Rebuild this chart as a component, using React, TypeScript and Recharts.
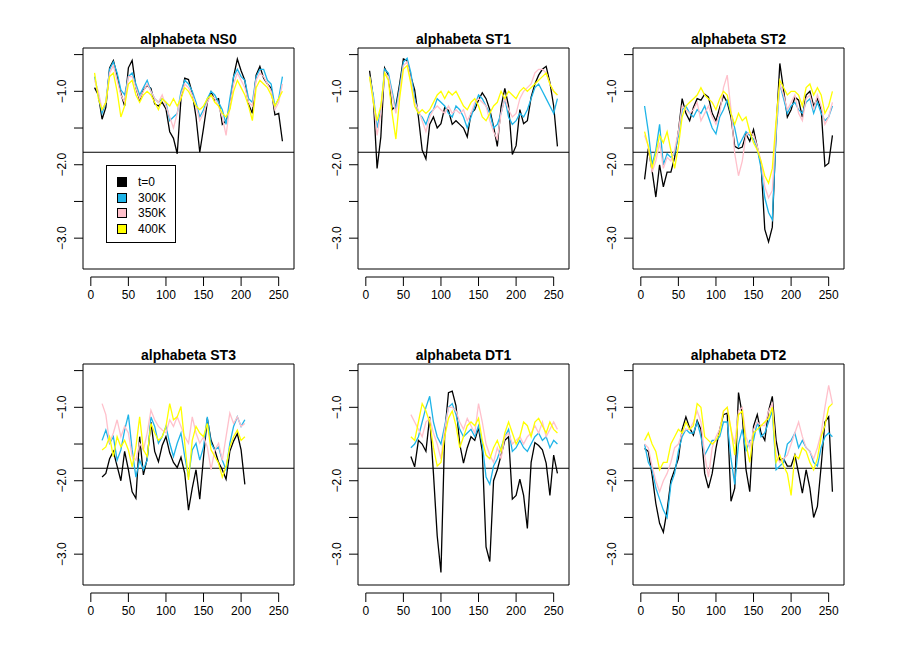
import React from "react";
import {
  LineChart,
  Line,
  XAxis,
  YAxis,
  ReferenceLine,
  ReferenceArea,
  Legend,
} from "recharts";

// residue positions (sampled every 5)
const X_FULL = [
  5, 10, 15, 20, 25, 30, 35, 40, 45, 50,
  55, 60, 65, 70, 75, 80, 85, 90, 95, 100,
  105, 110, 115, 120, 125, 130, 135, 140, 145, 150,
  155, 160, 165, 170, 175, 180, 185, 190, 195, 200,
  205, 210, 215, 220, 225, 230, 235, 240, 245, 250,
  255,
];
const X_ST3 = [
  15, 20, 25, 30, 35, 40, 45, 50, 55, 60,
  65, 70, 75, 80, 85, 90, 95, 100, 105, 110,
  115, 120, 125, 130, 135, 140, 145, 150, 155, 160,
  165, 170, 175, 180, 185, 190, 195, 200, 205,
];
const X_DT1 = [
  60, 65, 70, 75, 80, 85, 90, 95, 100, 105,
  110, 115, 120, 125, 130, 135, 140, 145, 150, 155,
  160, 165, 170, 175, 180, 185, 190, 195, 200, 205,
  210, 215, 220, 225, 230, 235, 240, 245, 250, 255,
];

const X_TICKS = [0, 50, 100, 150, 200, 250];
const Y_TICKS = [-3, -2.5, -2, -1.5, -1, -0.5];
const CUTOFF = -1.83;

// NS0
const NS0_T0 = [
  -0.95, -1.05, -1.38, -1.22, -0.68, -0.58, -0.78, -1.03, -1.2, -0.68,
  -0.58, -0.95, -1.12, -0.98, -0.92, -0.96, -1.17, -1.2, -1.15, -1.24,
  -1.55, -1.64, -1.85, -1.1, -0.82, -0.84, -1.02, -1.35, -1.83, -1.5,
  -1.15, -1.01, -1.12, -1.1, -1.45, -1.4, -1.22, -0.8, -0.56, -0.72,
  -0.85, -1.18, -1.3, -0.78, -0.66, -0.82, -0.9, -0.96, -1.32, -1.3,
  -1.68,
];
const NS0_300 = [
  -0.8, -1.05, -1.3, -1.15, -0.7, -0.6, -0.75, -0.98, -1.05, -0.8,
  -0.75, -0.9, -1.05, -0.95, -0.85, -1.0, -1.1, -1.15, -1.1, -1.15,
  -1.4, -1.35, -1.3, -1.0, -0.85, -0.9, -1.0, -1.15, -1.35, -1.25,
  -1.1, -1.0, -1.05, -1.15, -1.25, -1.45, -1.1, -0.8, -0.7, -0.8,
  -0.85, -1.1, -1.15, -0.8, -0.7, -0.7, -0.85, -0.9, -1.2, -1.1,
  -0.8,
];
const NS0_350 = [
  -0.85, -1.0, -1.25, -1.15, -0.75, -0.65, -0.85, -1.05, -1.15, -0.8,
  -0.8, -0.95, -1.1, -1.0, -0.9, -1.0, -1.1, -1.15, -1.05, -1.2,
  -1.35, -1.5, -1.3, -1.05, -0.9, -0.95, -1.05, -1.2, -1.4, -1.3,
  -1.15, -1.05, -1.1, -1.2, -1.35, -1.6, -1.2, -0.9, -0.75, -0.85,
  -0.95, -1.15, -1.2, -0.85, -0.75, -0.8, -0.9, -1.0, -1.25, -1.15,
  -0.9,
];
const NS0_400 = [
  -0.75, -1.1, -1.25, -1.15, -0.8, -0.75, -1.0, -1.35, -1.2, -0.9,
  -0.85, -1.05, -1.15, -1.05, -1.0, -1.05, -1.15, -1.25, -1.1, -1.15,
  -1.2, -1.1, -1.2, -1.1, -0.95, -1.0, -1.1, -1.2, -1.25, -1.2,
  -1.1, -1.05, -1.15, -1.2, -1.3, -1.35, -1.25, -1.0, -0.85, -0.95,
  -1.05, -1.2, -1.4, -0.95, -0.85, -0.9, -0.95, -1.05, -1.2, -1.1,
  -1.0,
];

// ST1
const ST1_T0 = [
  -0.72, -1.1, -2.05, -1.62, -0.68, -0.78, -1.25, -1.2, -0.9, -0.56,
  -0.58, -0.8, -0.98, -1.35, -1.8, -1.92, -1.45, -1.35, -1.5, -1.44,
  -1.22, -1.26, -1.45, -1.4, -1.45, -1.5, -1.62, -1.3, -1.25, -1.12,
  -1.02, -1.1, -1.25, -1.48, -1.75, -1.21, -0.96, -1.2, -1.86, -1.74,
  -1.25, -1.44, -1.4, -1.08, -0.9, -0.78, -0.7, -0.66, -0.88, -1.2,
  -1.75,
];
const ST1_300 = [
  -0.8, -1.05, -1.5, -1.25, -0.7, -0.75, -1.0, -1.25, -0.95, -0.6,
  -0.55, -0.75, -1.1, -1.3, -1.35, -1.45, -1.3, -1.25, -1.1, -1.15,
  -1.2, -1.3, -1.35, -1.2, -1.25, -1.35, -1.5, -1.35, -1.2, -1.05,
  -1.1, -1.2, -1.3, -1.5, -1.45, -1.3, -1.1, -1.35, -1.45, -1.4,
  -1.3, -1.35, -1.25, -1.1, -0.95, -0.9, -1.0, -1.1, -1.2, -1.3,
  -1.1,
];
const ST1_350 = [
  -0.8, -1.1, -1.6, -1.3, -0.75, -0.8, -1.05, -1.3, -1.0, -0.65,
  -0.6, -0.85, -1.15, -1.25, -1.4, -1.55, -1.35, -1.25, -1.2, -1.25,
  -1.3, -1.2, -1.3, -1.25, -1.3, -1.25, -1.4, -1.3, -1.15, -1.1,
  -1.15, -1.2, -1.4, -1.55, -1.65, -1.3, -1.1, -1.25, -1.35, -1.3,
  -1.1, -1.0, -0.95, -0.9, -0.75, -0.7, -0.7, -0.75, -0.9, -1.0,
  -1.05,
];
const ST1_400 = [
  -0.8, -1.15, -1.4, -1.2, -0.75, -0.85, -1.3, -1.65, -1.1, -0.7,
  -0.65, -0.9, -1.2, -1.3, -1.25, -1.3, -1.25, -1.15, -1.05, -1.0,
  -1.1, -1.0, -1.05, -1.0, -1.1, -1.2, -1.25, -1.15, -1.1, -1.2,
  -1.35, -1.4, -1.3, -1.2, -1.15, -1.0, -1.1, -1.0, -1.05, -1.1,
  -1.0, -0.95, -1.0, -0.95, -0.9, -0.85, -0.8, -0.75, -0.9, -1.0,
  -1.05,
];

// ST2
const ST2_T0 = [
  -2.2, -1.78, -2.08, -2.44, -2.0, -2.3, -2.1, -2.1, -1.9, -1.55,
  -1.1, -1.3, -1.4, -1.22, -1.1, -1.12, -1.04, -1.08, -1.3, -1.4,
  -1.22, -1.06, -1.15, -1.35, -1.75, -1.78, -1.76, -1.58, -1.68, -1.52,
  -1.76, -2.0, -2.88, -3.05, -2.85, -1.53, -0.62, -0.98, -1.35, -1.25,
  -1.08, -1.12, -1.35, -1.05, -1.0, -1.2, -1.1, -1.25, -2.02, -1.98,
  -1.6,
];
const ST2_300 = [
  -1.2, -1.55, -2.0, -1.8, -1.45, -2.0, -1.85, -1.9, -1.85, -1.6,
  -1.25, -1.2, -1.3, -1.35, -1.25, -1.3, -1.2, -1.35, -1.5, -1.58,
  -1.35, -1.25, -1.12, -1.3, -1.5, -1.75, -1.65, -1.55, -1.6, -1.65,
  -1.78, -2.05, -2.45, -2.65, -2.75, -1.6, -0.9, -1.1, -1.3, -1.2,
  -1.15, -1.25, -1.3, -1.15, -1.1, -1.3, -1.15, -1.3, -1.4, -1.35,
  -1.2,
];
const ST2_350 = [
  -1.6, -1.75, -2.1, -1.95, -1.7, -2.05, -1.9, -1.95, -1.8, -1.55,
  -1.2, -1.25, -1.3, -1.25, -1.15, -1.4, -1.3, -1.2, -1.35, -1.45,
  -1.3, -0.95, -0.78, -1.25, -1.85, -2.15, -1.95, -1.6, -1.55, -1.6,
  -1.75, -1.95, -2.3, -2.45, -2.35, -1.5, -0.9, -1.05, -1.25, -1.15,
  -1.05, -1.3, -1.4, -1.1, -1.05, -1.25, -1.05, -1.2, -1.45, -1.35,
  -1.15,
];
const ST2_400 = [
  -1.55, -1.75, -2.05, -1.85, -1.6, -1.7, -1.55, -1.8, -2.05, -1.75,
  -1.35, -1.2, -1.15, -1.1, -1.05, -0.95, -1.05, -1.1, -1.15, -1.25,
  -1.1, -1.0, -1.05, -1.3, -1.45, -1.3, -1.4, -1.35, -1.55, -1.7,
  -1.8, -1.95, -2.15, -2.25, -2.05, -1.4, -0.85, -0.95, -1.05, -1.0,
  -1.0, -1.05, -1.2, -0.95, -0.9, -1.05, -0.95, -1.05, -1.3, -1.2,
  -1.0,
];

// ST3
const ST3_T0 = [
  -1.95, -1.9, -1.7, -1.6, -1.8, -2.0, -1.6, -1.85, -2.15, -2.24,
  -1.4, -1.92, -1.7, -1.2, -1.6, -1.74, -1.52, -1.4, -1.62, -1.75,
  -1.82, -1.68, -1.9, -2.4, -2.1, -1.85, -2.25, -1.68, -1.15, -1.45,
  -1.58, -1.75, -1.85, -1.98, -1.6, -1.46, -1.36, -1.58, -2.05,
];
const ST3_300 = [
  -1.45, -1.31, -1.49, -1.4, -1.72, -1.58, -1.31, -1.1, -1.58, -1.95,
  -1.72, -1.85, -1.72, -1.13, -1.26, -1.49, -1.4, -1.26, -1.49, -1.67,
  -1.49, -1.35, -1.67, -1.95, -1.58, -1.49, -1.72, -1.54, -1.13, -1.49,
  -1.58, -1.54, -1.72, -1.85, -1.49, -1.26, -1.13, -1.26, -1.17,
];
const ST3_350 = [
  -0.95, -1.1, -1.49, -1.35, -1.17, -1.4, -1.26, -1.35, -1.67, -1.72,
  -1.49, -1.58, -1.35, -1.04, -1.17, -1.26, -1.31, -1.35, -1.17, -1.26,
  -1.13, -1.26, -1.4, -1.49, -1.13, -1.35, -1.49, -1.4, -1.54, -1.85,
  -1.58, -1.49, -1.72, -1.4, -1.08, -1.22, -1.13, -1.26, -1.22,
];
const ST3_400 = [
  -1.58, -1.54, -1.4, -1.67, -1.4, -1.54, -1.45, -1.58, -1.81, -1.54,
  -1.13, -1.58, -1.67, -1.22, -1.35, -1.45, -1.4, -1.26, -0.95, -1.17,
  -1.13, -0.99, -1.49, -1.99, -1.45, -1.26, -1.35, -1.4, -1.22, -1.58,
  -1.67, -1.76, -1.95, -1.81, -1.54, -1.4, -1.31, -1.45, -1.4,
];

// DT1
const DT1_T0 = [
  -1.67, -1.81, -1.45, -1.5, -1.6, -1.13, -1.9, -2.75, -3.25, -1.35,
  -0.8, -0.78, -0.98, -1.5, -1.76, -1.55, -1.4, -1.45, -1.28, -1.6,
  -2.9, -3.1, -2.0, -1.85, -1.65, -1.45, -1.4, -2.25, -2.2, -1.98,
  -2.2, -2.65, -1.75, -1.48, -1.52, -1.58, -1.76, -2.2, -1.65, -1.9,
];
const DT1_300 = [
  -1.55, -1.5, -1.4, -1.2, -1.0, -0.85, -1.2, -1.4, -1.5, -1.25,
  -1.0, -0.95, -1.1, -1.3, -1.4, -1.35, -1.3, -1.4, -1.25, -1.5,
  -1.95, -2.05, -1.8, -1.7, -1.55, -1.4, -1.3, -1.6, -1.55, -1.45,
  -1.55, -1.6, -1.5, -1.4, -1.35, -1.45, -1.4, -1.55, -1.45, -1.5,
];
const DT1_350 = [
  -1.1, -1.2, -1.3, -1.4, -1.2, -1.15, -1.35, -1.5, -1.7, -1.3,
  -1.0, -1.0, -1.05, -1.2, -1.3, -1.15, -1.25, -1.35, -0.95, -1.2,
  -1.5, -1.65, -1.75, -1.55, -1.7, -1.4, -1.35, -1.5, -1.45, -1.4,
  -1.5, -1.4, -1.35, -1.25, -1.35, -1.2, -1.4, -1.3, -1.2, -1.3,
];
const DT1_400 = [
  -1.4, -1.45, -1.2, -0.95, -1.05, -1.2, -1.55, -1.8, -1.75, -1.4,
  -1.15, -1.05, -1.25, -1.55, -1.4, -1.25, -1.2, -1.25, -1.15, -1.45,
  -1.65, -1.7, -1.55, -1.45, -1.6, -1.35, -1.2, -1.35, -1.5, -1.4,
  -1.2, -1.25, -1.4, -1.2, -1.15, -1.25, -1.35, -1.2, -1.3, -1.35,
];

// DT2
const DT2_T0 = [
  -1.56, -1.6, -1.92, -2.31, -2.58, -2.7, -2.4, -2.0, -1.85, -1.7,
  -1.3, -1.13, -1.28, -1.38, -1.18, -1.3, -1.9, -2.1, -1.9, -1.56,
  -1.3, -1.1, -1.08, -2.28, -2.1, -0.8, -1.1, -1.85, -2.15, -1.26,
  -1.1, -1.35, -1.45, -1.05, -0.85, -1.45, -1.72, -1.7, -1.8, -1.8,
  -1.65, -1.9, -2.17, -1.85, -2.1, -2.5, -2.35, -1.8, -1.2, -1.13,
  -2.15,
];
const DT2_300 = [
  -1.5, -1.75, -1.85, -2.1, -2.25, -2.4, -2.5, -2.05, -1.9, -1.6,
  -1.4, -1.3, -1.35, -1.35, -1.2, -1.4, -1.65, -1.55, -1.45, -1.45,
  -1.4, -1.2, -1.2, -1.7, -2.05, -1.5, -1.3, -1.6, -1.45, -1.45,
  -1.2, -1.4, -1.35, -1.2, -1.05, -1.85, -1.8, -1.75, -1.5, -1.45,
  -1.35, -1.55, -1.45, -1.55, -1.6, -1.75, -1.8, -1.55, -1.4, -1.35,
  -1.4,
];
const DT2_350 = [
  -1.5, -1.55, -1.8, -2.0, -2.15, -2.0, -1.9, -1.75, -1.55, -1.5,
  -1.35, -1.3, -1.3, -1.2, -1.05, -1.2, -1.65, -1.95, -1.55, -1.4,
  -1.3, -1.05, -1.0, -1.3, -1.5, -1.05, -1.0, -1.4, -1.55, -1.3,
  -1.2, -1.25, -1.25, -1.05, -0.95, -1.65, -1.75, -1.7, -1.65, -1.5,
  -1.35, -1.2, -1.4, -1.55, -1.6, -1.7, -1.55, -1.35, -1.0, -0.7,
  -0.95,
];
const DT2_400 = [
  -1.45, -1.35, -1.5, -1.6, -1.85, -1.75, -1.75, -1.5, -1.4, -1.3,
  -1.35, -1.2, -1.3, -1.25, -0.95, -1.0, -1.4, -1.45, -1.5, -1.45,
  -1.35, -1.05, -1.0, -1.3, -1.65, -1.1, -1.05, -1.5, -1.75, -1.35,
  -1.3, -1.25, -1.2, -1.15, -1.0, -1.75, -1.65, -1.8, -1.9, -2.2,
  -1.65, -1.7, -1.55, -1.6, -1.75, -1.85, -1.7, -1.4, -1.25, -1.0,
  -0.95,
];

const FONT = '"Liberation Sans", Arial, Helvetica, sans-serif';
const X_MIN = -10.4;
const X_MAX = 270.4;
const Y_MIN = -3.42;
const Y_MAX = -0.41;
const PLOT_W = 211;
const COL_STEP = 275;
const ROW_STEP = 316;

const PANELS = [
  { title: "alphabeta NS0", x: X_FULL, s: [NS0_T0, NS0_300, NS0_350, NS0_400] },
  { title: "alphabeta ST1", x: X_FULL, s: [ST1_T0, ST1_300, ST1_350, ST1_400] },
  { title: "alphabeta ST2", x: X_FULL, s: [ST2_T0, ST2_300, ST2_350, ST2_400] },
  { title: "alphabeta ST3", x: X_ST3, s: [ST3_T0, ST3_300, ST3_350, ST3_400] },
  { title: "alphabeta DT1", x: X_DT1, s: [DT1_T0, DT1_300, DT1_350, DT1_400] },
  { title: "alphabeta DT2", x: X_FULL, s: [DT2_T0, DT2_300, DT2_350, DT2_400] },
];

const SERIES = [
  { key: "t0", name: "t=0", color: "#000000" },
  { key: "k300", name: "300K", color: "#1EB4E8" },
  { key: "k350", name: "350K", color: "#FFC0CB" },
  { key: "k400", name: "400K", color: "#FFFF00" },
];

function XTick({ x, y, payload, index }: any) {
  const span = 250 * (PLOT_W / (X_MAX - X_MIN));
  return (
    <g>
      {index === 0 && (
        <line x1={x} x2={x + span} y1={y + 8} y2={y + 8} stroke="#000" />
      )}
      <line x1={x} x2={x} y1={y + 8} y2={y + 17} stroke="#000" />
      <text x={x} y={y + 30} textAnchor="middle" fontSize={12} fontFamily={FONT} fill="#000">
        {payload.value}
      </text>
    </g>
  );
}

function YTick({ x, y, payload }: any) {
  const v = payload.value;
  if (Math.abs(v - Math.round(v)) > 1e-6) return null;
  const label = "\u2212" + Math.abs(v).toFixed(1);
  return (
    <text
      x={x}
      y={y}
      transform={`rotate(-90, ${x}, ${y})`}
      textAnchor="middle"
      fontSize={12}
      fontFamily={FONT}
      fill="#000"
    >
      {label}
    </text>
  );
}

// legend keeps the series order (t=0 first), colours from the series list
function LegendBox({ payload }: any) {
  const byName: Record<string, string> = {};
  (payload || []).forEach((e: any) => {
    byName[e.value] = e.color;
  });
  return (
    <div
      style={{
        position: "relative",
        width: 70,
        height: 78,
        boxSizing: "border-box",
        border: "1px solid #000",
        background: "#fff",
        fontFamily: FONT,
        fontSize: 12,
      }}
    >
      {SERIES.map((s, i) => (
        <div
          key={s.key}
          style={{ position: "absolute", left: 10, top: 9 + i * 15.5, height: 14, display: "flex", alignItems: "center" }}
        >
          <span
            style={{
              display: "inline-block",
              width: 8,
              height: 8,
              background: byName[s.name] || s.color,
              border: "1px solid #000",
            }}
          />
          <span style={{ marginLeft: 11, lineHeight: "14px" }}>{s.name}</span>
        </div>
      ))}
    </div>
  );
}

function Panel({ p, col, row, legend }: any) {
  const data = p.x.map((x: number, i: number) => ({
    x,
    t0: p.s[0][i],
    k300: p.s[1][i],
    k350: p.s[2][i],
    k400: p.s[3][i],
  }));
  return (
    <div style={{ position: "absolute", left: col * COL_STEP, top: row * ROW_STEP, width: 300, height: 316 }}>
      <div
        style={{
          position: "absolute",
          left: 83,
          top: 31,
          width: PLOT_W,
          textAlign: "center",
          fontFamily: FONT,
          fontWeight: "bold",
          fontSize: 14,
          lineHeight: "16px",
        }}
      >
        {p.title}
      </div>
      <LineChart width={300} height={316} data={data} margin={{ top: 48, right: 6, bottom: 7, left: 23 }}>
        <XAxis
          dataKey="x"
          type="number"
          domain={[X_MIN, X_MAX]}
          ticks={X_TICKS}
          interval={0}
          allowDataOverflow
          axisLine={false}
          tickLine={false}
          tickSize={0}
          tickMargin={0}
          height={40}
          tick={<XTick />}
        />
        <YAxis
          type="number"
          domain={[Y_MIN, Y_MAX]}
          ticks={Y_TICKS}
          interval={0}
          allowDataOverflow
          axisLine={false}
          tickLine={{ stroke: "#000" }}
          tickSize={9}
          tickMargin={8}
          width={60}
          tick={<YTick />}
        />
        <ReferenceLine y={CUTOFF} stroke="#000" strokeWidth={1} />
        {SERIES.map((s) => (
          <Line
            key={s.key}
            dataKey={s.key}
            name={s.name}
            stroke={s.color}
            strokeWidth={1.3}
            dot={false}
            activeDot={false}
            isAnimationActive={false}
          />
        ))}
        <ReferenceArea x1={X_MIN} x2={X_MAX} y1={Y_MIN} y2={Y_MAX} fill="none" stroke="#000" strokeWidth={1} />
        {legend && (
          <Legend
            layout="horizontal"
            verticalAlign="middle"
            align="center"
            content={<LegendBox />}
            wrapperStyle={{ left: 106, top: 165, width: 70, height: 78 }}
          />
        )}
      </LineChart>
    </div>
  );
}

export default function App() {
  return (
    <div style={{ position: "absolute", left: 0, top: 0, width: 917, height: 654, background: "#fff", fontFamily: FONT }}>
      {PANELS.map((p, i) => (
        <Panel key={p.title} p={p} col={i % 3} row={Math.floor(i / 3)} legend={i === 0} />
      ))}
    </div>
  );
}
